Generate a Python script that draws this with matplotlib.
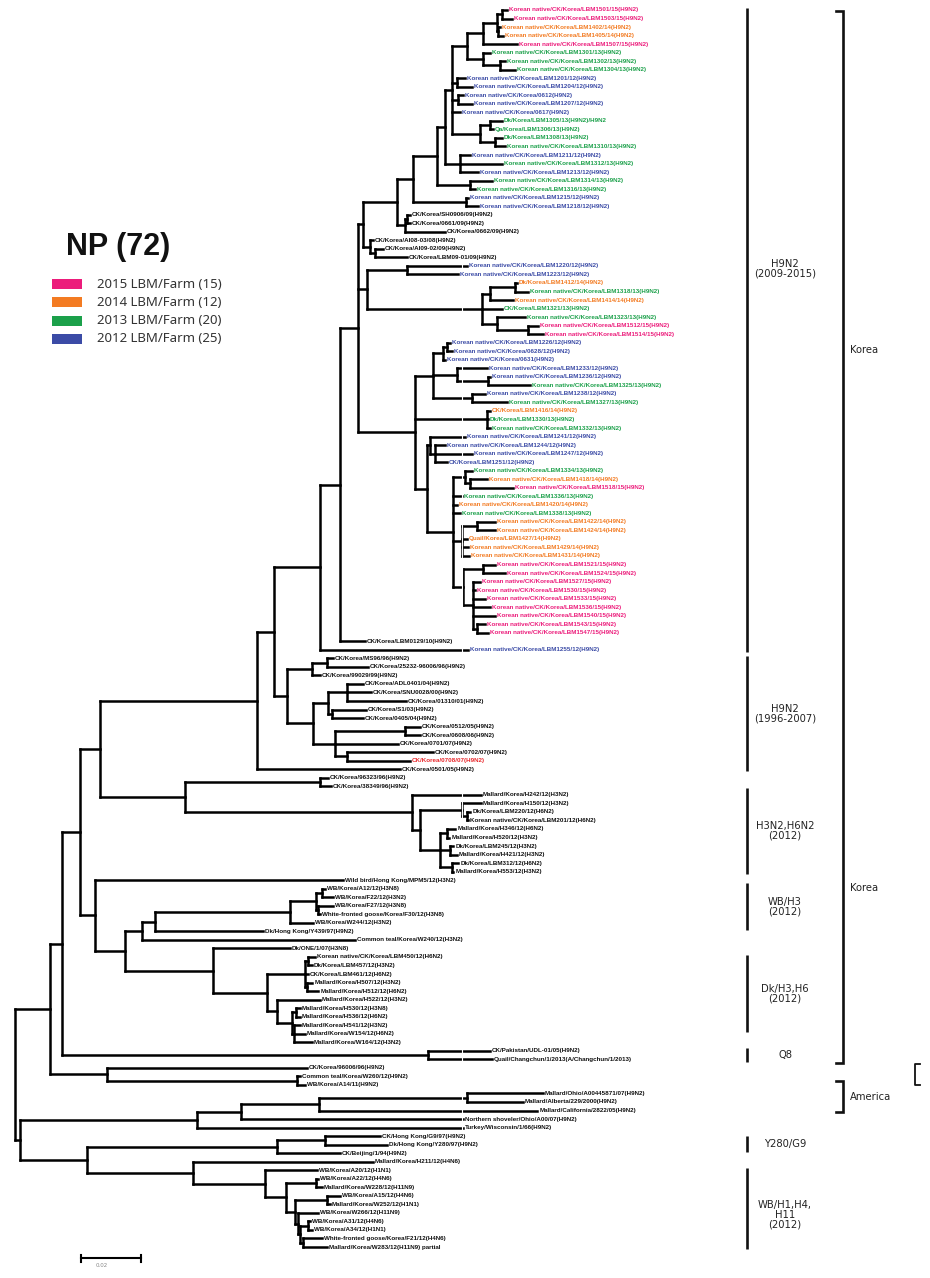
import matplotlib
matplotlib.use("Agg")
import matplotlib.pyplot as plt
from matplotlib.collections import LineCollection
from matplotlib.patches import Rectangle

W, H, DPI = 930, 1278, 100

# ---------------- data ----------------
# branch lengths in 0.001 substitutions/site; leaf codes: p=2015, o=2014, g=2013, b=2012, k=reference, r=highlight
n467 = "((((p:1.67,p:3.33):1.67,(o:0.67,o:1.67):0.33):4.67,p:11.33):5.33,(g:2.33,(g:1.67,g:5.0):5.67):5.33)"
n452 = f"({n467}:5.0,(b:2.67,b:5.0):1.67,(b:1.67,b:4.67):2.0,b:2.67,((g:4.0,g:1.0):3.33,(g:2.33,g:3.33):5.0):9.33)"
n445 = f"({n452}:2.33,(b:3.33,g:14.0,b:6.0):5.0)"
n437 = f"({n445}:2.67,(g:7.33,g:1.67):11.0)"
u3 = f"({n437}:8.0,(b:0.67,b:4.0):17.67)"
u2 = f"({u3}:5.33,((k:1.0,k:1.0):0.67,k:13.33):2.67)"
u1 = f"({u2}:11.33,(k:1.0,(k:2.67,k:10.67):1.67):2.33)"
n482 = "(((o:0.67,g:4.33):8.33,o:7.67):2.67,g:6.67,(g:9.33,(p:3.33,p:5.0):10.33):5.0)"
n367 = f"((b:20.0,b:17.0):13.33,{n482}:38.33)"
l1 = "(((b:1.0,b:1.67):1.33,b:0.67):3.33,(b:10.0,(b:0.67,g:14.0):10.33):8.0,(b:4.33,g:11.67):13.0)"
l3b = ("((g:2.33,(o:5.67,p:14.33):1.67):4.0,g:3.0,o:1.33,g:2.33,"
       "((o:6.0,o:6.0):5.0,o:1.67,o:2.0,o:2.33):3.0,"
       "((p:4.0,p:7.33):6.67,(p:2.33,p:0.67,p:4.0,p:5.67,p:7.33,(p:2.67,p:3.67):1.33):3.33):3.33)")
l3 = f"((b:11.67,(b:3.33,b:12.33,b:4.0):1.67):1.0,{l3b}:8.67)"
lo = f"({l1}:6.0,(o:1.0,g:0.33,g:1.0):24.0,{l3}:4.0)"
n358 = f"({u1}:1.67,{n367}:3.0,{lo}:19.0)"
n340 = f"({n358}:6.0,k:8.33)"
n320 = f"({n340}:6.67,b:49.33)"
n287 = ("(((k:2.0,k:13.67):5.0,k:2.67):8.33,(((k:5.33,k:8.0,k:19.67):6.33,(k:11.33,k:10.33):1.33):5.0,"
        "((k:5.0,k:5.0):23.33,k:21.0,(k:28.67,r:21.0):4.0):7.33):8.67)")
n257 = f"(({n320}:15.33,{n287}:4.33):5.67,k:47.67)"
h3n2 = "(k:23.0,((k:6.33,(k:1.0,k:0.33):1.67):14.0,((k:2.67,k:0.67):2.33,(k:1.0,k:2.33):3.33,(k:2.0,k:0.33):4.0):6.67):2.67)"
n185 = f"((k:2.67,k:3.67):45.0,{h3n2}:75.67)"
n100 = f"({n257}:52.33,{n185}:28.33)"
wbh3 = "((((k:1.0,k:3.67):2.0,(k:5.0,k:0.67):0.67):8.67,k:7.67):45.0,k:36.0)"
n142 = f"({wbh3}:4.33,k:71.0)"
dk = ("(k:25.67,(((k:2.33,k:1.33):1.0,k:1.0,(k:1.67,k:3.67):0.67):12.67,"
      "(k:14.33,((k:1.33,k:1.33):1.33,(k:2.0,k:3.67,k:6.0):0.67):5.0):3.33):18.0)")
n95 = f"(k:82.67,({n142}:5.67,{dk}:29.33):10.0)"
n80 = f"({n100}:6.67,{n95}:5.0)"
n62 = f"({n80}:6.0,(k:20.67,k:21.33):122.0)"
n50 = f"({n62}:4.0,(k:66.67,(k:1.0,k:2.67):63.33):19.0)"
america = "((((k:25.33,k:18.67):49.33,k:72.67):26.0,k:74.0):14.67,k:88.67)"
wb = ("(k:17.33,((k:0.67,k:2.0):10.0,((k:4.33,k:1.0):10.67,"
      "(k:6.67,((k:0.67,k:1.33):2.67,(k:6.33,k:8.0):1.0):0.67):1.0):3.0):7.0)")
n87 = f"(((k:18.33,k:20.67):16.0,k:21.0):63.33,(k:60.0,{wb}:24.0):35.33)"
n20 = f"({america}:59.0,{n87}:22.33)"
TREE = f"({n50}:11.67,{n20}:1.67);"

names_2015 = [
    "Korean native/CK/Korea/LBM1501/15(H9N2)", "Korean native/CK/Korea/LBM1503/15(H9N2)",
    "Korean native/CK/Korea/LBM1507/15(H9N2)", "Korean native/CK/Korea/LBM1512/15(H9N2)",
    "Korean native/CK/Korea/LBM1514/15(H9N2)", "Korean native/CK/Korea/LBM1518/15(H9N2)",
    "Korean native/CK/Korea/LBM1521/15(H9N2)", "Korean native/CK/Korea/LBM1524/15(H9N2)",
    "Korean native/CK/Korea/LBM1527/15(H9N2)", "Korean native/CK/Korea/LBM1530/15(H9N2)",
    "Korean native/CK/Korea/LBM1533/15(H9N2)", "Korean native/CK/Korea/LBM1536/15(H9N2)",
    "Korean native/CK/Korea/LBM1540/15(H9N2)", "Korean native/CK/Korea/LBM1543/15(H9N2)",
    "Korean native/CK/Korea/LBM1547/15(H9N2)",
]
names_2014 = [
    "Korean native/CK/Korea/LBM1402/14(H9N2)", "Korean native/CK/Korea/LBM1405/14(H9N2)",
    "Dk/Korea/LBM1412/14(H9N2)", "Korean native/CK/Korea/LBM1414/14(H9N2)",
    "CK/Korea/LBM1416/14(H9N2)", "Korean native/CK/Korea/LBM1418/14(H9N2)",
    "Korean native/CK/Korea/LBM1420/14(H9N2)", "Korean native/CK/Korea/LBM1422/14(H9N2)",
    "Korean native/CK/Korea/LBM1424/14(H9N2)", "Quail/Korea/LBM1427/14(H9N2)",
    "Korean native/CK/Korea/LBM1429/14(H9N2)", "Korean native/CK/Korea/LBM1431/14(H9N2)",
]
names_2013 = [
    "Korean native/CK/Korea/LBM1301/13(H9N2)", "Korean native/CK/Korea/LBM1302/13(H9N2)",
    "Korean native/CK/Korea/LBM1304/13(H9N2)", "Dk/Korea/LBM1305/13(H9N2)/H9N2",
    "Qa/Korea/LBM1306/13(H9N2)", "Dk/Korea/LBM1308/13(H9N2)",
    "Korean native/CK/Korea/LBM1310/13(H9N2)", "Korean native/CK/Korea/LBM1312/13(H9N2)",
    "Korean native/CK/Korea/LBM1314/13(H9N2)", "Korean native/CK/Korea/LBM1316/13(H9N2)",
    "Korean native/CK/Korea/LBM1318/13(H9N2)", "CK/Korea/LBM1321/13(H9N2)",
    "Korean native/CK/Korea/LBM1323/13(H9N2)", "Korean native/CK/Korea/LBM1325/13(H9N2)",
    "Korean native/CK/Korea/LBM1327/13(H9N2)", "Dk/Korea/LBM1330/13(H9N2)",
    "Korean native/CK/Korea/LBM1332/13(H9N2)", "Korean native/CK/Korea/LBM1334/13(H9N2)",
    "Korean native/CK/Korea/LBM1336/13(H9N2)", "Korean native/CK/Korea/LBM1338/13(H9N2)",
]
names_2012 = [
    "Korean native/CK/Korea/LBM1201/12(H9N2)", "Korean native/CK/Korea/LBM1204/12(H9N2)",
    "Korean native/CK/Korea/0612(H9N2)", "Korean native/CK/Korea/LBM1207/12(H9N2)",
    "Korean native/CK/Korea/0617(H9N2)", "Korean native/CK/Korea/LBM1211/12(H9N2)",
    "Korean native/CK/Korea/LBM1213/12(H9N2)", "Korean native/CK/Korea/LBM1215/12(H9N2)",
    "Korean native/CK/Korea/LBM1218/12(H9N2)", "Korean native/CK/Korea/LBM1220/12(H9N2)",
    "Korean native/CK/Korea/LBM1223/12(H9N2)", "Korean native/CK/Korea/LBM1226/12(H9N2)",
    "Korean native/CK/Korea/0628/12(H9N2)", "Korean native/CK/Korea/0631(H9N2)",
    "Korean native/CK/Korea/LBM1233/12(H9N2)", "Korean native/CK/Korea/LBM1236/12(H9N2)",
    "Korean native/CK/Korea/LBM1238/12(H9N2)", "Korean native/CK/Korea/LBM1241/12(H9N2)",
    "Korean native/CK/Korea/LBM1244/12(H9N2)", "Korean native/CK/Korea/LBM1247/12(H9N2)",
    "CK/Korea/LBM1251/12(H9N2)", "Korean native/CK/Korea/LBM1255/12(H9N2)",
]
names_ref = [
    "CK/Korea/SH0906/09(H9N2)", "CK/Korea/0661/09(H9N2)", "CK/Korea/0662/09(H9N2)",
    "CK/Korea/AI08-03/08(H9N2)", "CK/Korea/AI09-02/09(H9N2)", "CK/Korea/LBM09-01/09(H9N2)",
    "CK/Korea/LBM0129/10(H9N2)",
    "CK/Korea/MS96/96(H9N2)", "CK/Korea/25232-96006/96(H9N2)", "CK/Korea/99029/99(H9N2)",
    "CK/Korea/ADL0401/04(H9N2)", "CK/Korea/SNU0028/00(H9N2)", "CK/Korea/01310/01(H9N2)",
    "CK/Korea/S1/03(H9N2)", "CK/Korea/0405/04(H9N2)", "CK/Korea/0512/05(H9N2)",
    "CK/Korea/0608/06(H9N2)", "CK/Korea/0701/07(H9N2)", "CK/Korea/0702/07(H9N2)",
    "CK/Korea/0501/05(H9N2)",
    "CK/Korea/96323/96(H9N2)", "CK/Korea/38349/96(H9N2)",
    "Mallard/Korea/H242/12(H3N2)", "Mallard/Korea/H150/12(H3N2)", "Dk/Korea/LBM220/12(H6N2)",
    "Korean native/CK/Korea/LBM201/12(H6N2)", "Mallard/Korea/H346/12(H6N2)",
    "Mallard/Korea/H520/12(H3N2)", "Dk/Korea/LBM245/12(H3N2)", "Mallard/Korea/H421/12(H3N2)",
    "Dk/Korea/LBM312/12(H6N2)", "Mallard/Korea/H553/12(H3N2)",
    "Wild bird/Hong Kong/MPM5/12(H3N2)", "WB/Korea/A12/12(H3N8)", "WB/Korea/F22/12(H3N2)",
    "WB/Korea/F27/12(H3N8)", "White-fronted goose/Korea/F30/12(H3N8)", "WB/Korea/W244/12(H3N2)",
    "Dk/Hong Kong/Y439/97(H9N2)", "Common teal/Korea/W240/12(H3N2)",
    "Dk/ONE/1/07(H3N8)", "Korean native/CK/Korea/LBM450/12(H6N2)", "Dk/Korea/LBM457/12(H3N2)",
    "CK/Korea/LBM461/12(H6N2)", "Mallard/Korea/H507/12(H3N2)", "Mallard/Korea/H512/12(H6N2)",
    "Mallard/Korea/H522/12(H3N2)", "Mallard/Korea/H530/12(H3N8)", "Mallard/Korea/H536/12(H6N2)",
    "Mallard/Korea/H541/12(H3N2)", "Mallard/Korea/W154/12(H6N2)", "Mallard/Korea/W164/12(H3N2)",
    "CK/Pakistan/UDL-01/05(H9N2)", "Quail/Changchun/1/2013(A/Changchun/1/2013)",
    "CK/Korea/96006/96(H9N2)", "Common teal/Korea/W260/12(H9N2)", "WB/Korea/A14/11(H9N2)",
    "Mallard/Ohio/A00445871/07(H9N2)", "Mallard/Alberta/229/2000(H9N2)",
    "Mallard/California/2822/05(H9N2)", "Northern shoveler/Ohio/A00/07(H9N2)",
    "Turkey/Wisconsin/1/66(H9N2)",
    "CK/Hong Kong/G9/97(H9N2)", "Dk/Hong Kong/Y280/97(H9N2)", "CK/Beijing/1/94(H9N2)",
    "Mallard/Korea/H211/12(H4N6)",
    "WB/Korea/A20/12(H1N1)", "WB/Korea/A22/12(H4N6)", "Mallard/Korea/W228/12(H11N9)",
    "WB/Korea/A15/12(H4N6)", "Mallard/Korea/W252/12(H1N1)", "WB/Korea/W266/12(H11N9)",
    "WB/Korea/A31/12(H4N6)", "WB/Korea/A34/12(H1N1)",
    "White-fronted goose/Korea/F21/12(H4N6)", "Mallard/Korea/W283/12(H11N9) partial",
]
names_red = ["CK/Korea/0708/07(H9N2)"]

legend_labels = ["2015 LBM/Farm (15)", "2014 LBM/Farm (12)", "2013 LBM/Farm (20)", "2012 LBM/Farm (25)"]
legend_codes = ["p", "o", "g", "b"]

# clade bars: (label, first leaf index, last leaf index, label leaf position or None)
clades = [
    ("H9N2\n(2009-2015)", 0, 75, 30.3),
    ("H9N2\n(1996-2007)", 76, 89, None),
    ("H3N2,H6N2\n(2012)", 91.4, 101, None),
    ("WB/H3\n(2012)", 102.6, 107.6, None),
    ("Dk/H3,H6\n(2012)", 111, 119.6, None),
    ("Q8", 121.9, 123.1, None),
    ("Y280/G9", 132.2, 133.6, None),
    ("WB/H1,H4,\nH11\n(2012)", 136, 145, 141.2),
]
regions = [("Korea", 0.1, 123.4, [39.9, 102.9]), ("America", 125.6, 129.2, [127.4])]

COLORS = {"p": "#EC1C7B", "o": "#F37B22", "g": "#1BA04A", "b": "#3B4BA6",
          "k": "#111111", "r": "#E8262A"}
NAMES = {"p": names_2015, "o": names_2014, "g": names_2013, "b": names_2012,
         "k": names_ref, "r": names_red}


# ---------------- tree parsing / layout ----------------
def parse_newick(s):
    s = s.replace(" ", "").replace("\n", "").rstrip(";")
    pos = 0

    def node():
        nonlocal pos
        n = {"children": [], "len": 0.0, "code": None}
        if s[pos] == "(":
            pos += 1
            while True:
                n["children"].append(node())
                if s[pos] == ",":
                    pos += 1
                    continue
                if s[pos] == ")":
                    pos += 1
                    break
        else:
            st = pos
            while s[pos] not in ":,()":
                pos += 1
            n["code"] = s[st:pos]
        if pos < len(s) and s[pos] == ":":
            pos += 1
            st = pos
            while pos < len(s) and s[pos] not in ",()":
                pos += 1
            n["len"] = float(s[st:pos])
        return n

    return node()


root = parse_newick(TREE)
leaves = []


def layout(n, x0):
    n["x"] = x0 + n["len"]
    if n["children"]:
        for c in n["children"]:
            layout(c, n["x"])
        n["y"] = (n["children"][0]["y"] + n["children"][-1]["y"]) / 2.0
    else:
        n["y"] = float(len(leaves))
        leaves.append(n)


layout(root, 0.0)

segs = []


def collect(n):
    if n["children"]:
        segs.append([(n["x"], n["children"][0]["y"]), (n["x"], n["children"][-1]["y"])])
        for c in n["children"]:
            segs.append([(n["x"], c["y"]), (c["x"], c["y"])])
            collect(c)


collect(root)

# ---------------- figure ----------------
fig = plt.figure(figsize=(W / DPI, H / DPI), dpi=DPI)
fig.patch.set_facecolor("white")
ax = fig.add_axes([0, 0, 1, 1])
ax.axis("off")
X_PX0, PX_PER_UNIT = 15.0, 3.0
Y_PX0, PX_PER_LEAF = 10.0, (1247 - 10) / 145.0
ax.set_xlim(-X_PX0 / PX_PER_UNIT, (W - X_PX0) / PX_PER_UNIT)
ax.set_ylim((H - Y_PX0) / PX_PER_LEAF, -Y_PX0 / PX_PER_LEAF)

ax.add_collection(LineCollection(segs, colors="black", linewidths=1.8,
                                 capstyle="projecting", zorder=2))
# faint scan stripe across the tree
ax.plot([149, 149], [25, 132.5], color="white", lw=0.8, zorder=2.5)

iters = {k: iter(v) for k, v in NAMES.items()}
for lf in leaves:
    code = lf["code"]
    name = next(iters[code], "")
    ax.text(lf["x"] + 0.7, lf["y"], name, fontsize=4.5, fontweight="bold",
            color=COLORS[code], va="center", ha="left", family="Liberation Sans", zorder=3)

# clade bars and labels
tr = ax.get_yaxis_transform()
BAR_X, LAB_X = 747 / W, 785 / W
for lab, a, b, ly in clades:
    ax.plot([BAR_X, BAR_X], [a - 0.25, b + 0.25], color="#111111", lw=1.9,
            transform=tr, solid_capstyle="butt")
    yy = (a + b) / 2 if ly is None else ly
    ax.text(LAB_X, yy, lab, transform=tr, ha="center", va="center", fontsize=7.2,
            color="#222222", linespacing=0.95, family="DejaVu Sans")

BR_X, HOOK = 843 / W, 7 / W
for lab, a, b, lys in regions:
    ax.plot([BR_X - HOOK, BR_X, BR_X, BR_X - HOOK], [a, a, b, b], color="#111111",
            lw=1.9, transform=tr, solid_joinstyle="miter")
    for yy in lys:
        ax.text(BR_X + 7 / W, yy, lab, transform=tr, ha="left", va="center",
                fontsize=7.2, color="#222222", family="DejaVu Sans")
# partial bracket at the right edge
ax.plot([920 / W, 915 / W, 915 / W, 920 / W], [123.5, 123.5, 126.0, 126.0],
        color="#111111", lw=1.3, transform=tr)

# scale bar (0.02 substitutions)
sb_x0, sb_len, sb_y = 22.0, 20.0, 146.3
ax.plot([sb_x0, sb_x0 + sb_len], [sb_y, sb_y], color="black", lw=1.5)
for xx in (sb_x0, sb_x0 + sb_len):
    ax.plot([xx, xx], [sb_y - 0.4, sb_y + 0.4], color="black", lw=1.5)
ax.text(sb_x0 + 7, sb_y + 0.9, "0.02", fontsize=4, color="#888888", ha="center", va="center")

# legend block (pixel coordinates)
axp = fig.add_axes([0, 0, 1, 1], facecolor="none")
axp.set_xlim(0, W)
axp.set_ylim(H, 0)
axp.axis("off")
axp.text(66, 247, "NP (72)", fontsize=22, fontweight="bold", family="Liberation Sans",
         ha="left", va="center", color="#111111")
leg_y = [284, 302, 321, 339]
for yy, lab, code in zip(leg_y, legend_labels, legend_codes):
    axp.add_patch(Rectangle((52, yy - 5), 30, 10, color=COLORS[code], lw=0))
    axp.text(97, yy, lab, fontsize=9.5, family="Noto Sans", ha="left", va="center",
             color="#333333")

fig.savefig("out.png", dpi=DPI, facecolor="white")
